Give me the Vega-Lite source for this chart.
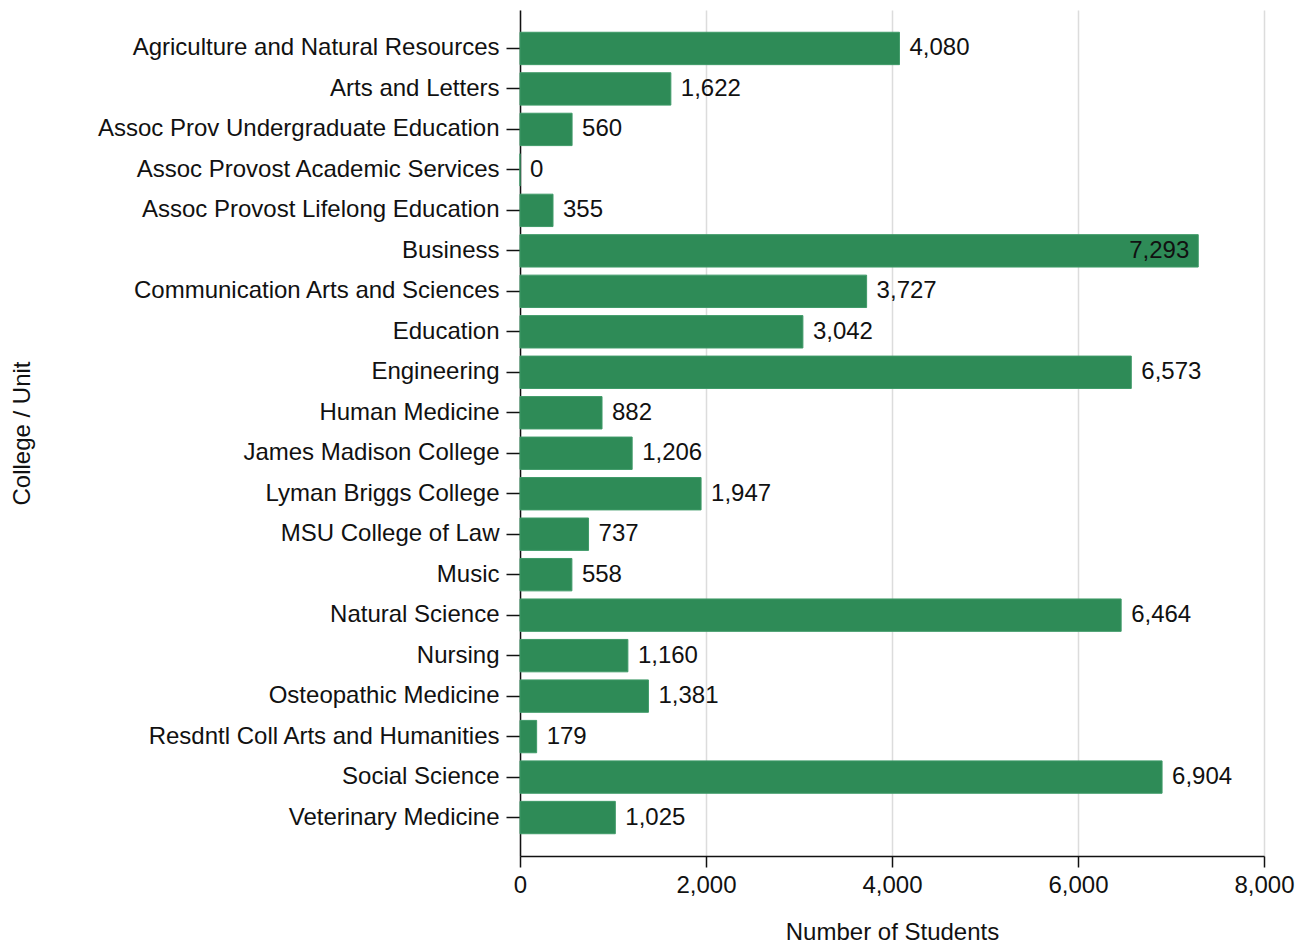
{
  "$schema": "https://vega.github.io/schema/vega-lite/v6.json",
  "autosize": {"type": "none"},
  "padding": {"left": 520, "top": 10, "right": 41, "bottom": 91},
  "width": 744,
  "height": 846,
  "background": "white",
  "config": {
    "view": {"stroke": null},
    "font": "Liberation Sans",
    "axis": {
      "labelFont": "Liberation Sans",
      "titleFont": "Liberation Sans",
      "labelColor": "#111",
      "titleColor": "#111",
      "labelFontSize": 24,
      "titleFontSize": 24,
      "titleFontWeight": "normal",
      "labelLimit": 0,
      "domainColor": "#111",
      "domainWidth": 1.5,
      "tickColor": "#111",
      "tickWidth": 1.5
    }
  },
  "data": {
    "values": [
      {"college": "Agriculture and Natural Resources", "students": 4080},
      {"college": "Arts and Letters", "students": 1622},
      {"college": "Assoc Prov Undergraduate Education", "students": 560},
      {"college": "Assoc Provost Academic Services", "students": 0},
      {"college": "Assoc Provost Lifelong Education", "students": 355},
      {"college": "Business", "students": 7293},
      {"college": "Communication Arts and Sciences", "students": 3727},
      {"college": "Education", "students": 3042},
      {"college": "Engineering", "students": 6573},
      {"college": "Human Medicine", "students": 882},
      {"college": "James Madison College", "students": 1206},
      {"college": "Lyman Briggs College", "students": 1947},
      {"college": "MSU College of Law", "students": 737},
      {"college": "Music", "students": 558},
      {"college": "Natural Science", "students": 6464},
      {"college": "Nursing", "students": 1160},
      {"college": "Osteopathic Medicine", "students": 1381},
      {"college": "Resdntl Coll Arts and Humanities", "students": 179},
      {"college": "Social Science", "students": 6904},
      {"college": "Veterinary Medicine", "students": 1025}
    ]
  },
  "encoding": {
    "y": {
      "field": "college",
      "type": "nominal",
      "sort": null,
      "scale": {"paddingInner": 0.2, "paddingOuter": 0.55},
      "axis": {
        "title": "College / Unit",
        "tickSize": 14,
        "labelPadding": 7,
        "titleX": -498,
        "titleY": 423,
        "titleBaseline": "middle",
        "titleAlign": "center",
        "titleAngle": -90
      }
    },
    "x": {
      "field": "students",
      "type": "quantitative",
      "scale": {"domain": [0, 8000], "nice": false},
      "axis": {
        "title": "Number of Students",
        "values": [0, 2000, 4000, 6000, 8000],
        "format": ",d",
        "tickSize": 11,
        "labelPadding": 6,
        "labelFlush": false,
        "grid": true,
        "gridColor": "#dcdcdc",
        "gridWidth": 1.5,
        "titleY": 76,
        "titleBaseline": "middle"
      }
    }
  },
  "layer": [
    {"mark": {"type": "bar", "color": "#2e8b57", "stroke": "#3f9a68", "strokeWidth": 1}},
    {
      "transform": [{"filter": "datum.students < 7000"}],
      "mark": {"type": "text", "align": "left", "baseline": "middle", "dx": 10, "fontSize": 24, "color": "#111"},
      "encoding": {"text": {"field": "students", "type": "quantitative", "format": ",d"}}
    },
    {
      "transform": [{"filter": "datum.students >= 7000"}],
      "mark": {"type": "text", "align": "right", "baseline": "middle", "dx": -9, "fontSize": 24, "color": "#111"},
      "encoding": {"text": {"field": "students", "type": "quantitative", "format": ",d"}}
    }
  ]
}
